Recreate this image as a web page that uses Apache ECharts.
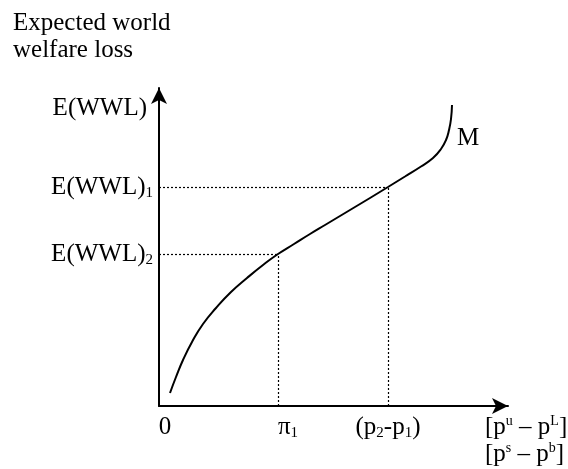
<!DOCTYPE html>
<html><head><meta charset="utf-8">
<script src="https://cdn.jsdelivr.net/npm/echarts@6/dist/echarts.min.js"></script>
<style>html,body{margin:0;padding:0;background:#fff}#c{width:568px;height:469px}</style>
</head><body><div id="c"></div>
<script>
// Curve M (abstract units)
const curveX = [11,17,24,33,44,57,72,88,104,119,135,151,166,181,196,211,229,246,262,274,282,287,290,292,293];
const curveY = [13,29,46,64,82,98,114,128,141,152,162,172,181,190,199,208,219,229.5,239.5,248,257,266,276,287,301];
// Projection points on M
const projX = [119, 229];
const projY = [152, 219];
// Tick labels
const xTickValues = [0, 119, 229];
const xTickLabels = ['{g12|}{m|0}', '{g20|}{m|π}{s|1}', '{m|(p}{s|2}{m|-p}{s|1}{m|)}'];
const yTickValues = [152, 219, 298];
const yTickLabels = ['{m|E(WWL)}{s|2}', '{m|E(WWL)}{s|1}', '{m|E(WWL)}{g6|}'];
const xAxisName = '{m|[p}{u|u}{m| – p}{u|L}{m|]}\n{m|[p}{u|s}{m| – p}{u|b}{m|]}';
const titleText = 'Expected world\nwelfare loss';
const curveName = 'M';

const FONT = 'Liberation Serif';
const FS = 25;
const rich = {
  m: {fontFamily: FONT, fontSize: FS, color: '#000', lineHeight: 27},
  s: {fontFamily: FONT, fontSize: 15, color: '#000', lineHeight: 15, verticalAlign: 'bottom'},
  u: {fontFamily: FONT, fontSize: 14, color: '#000', lineHeight: 14, verticalAlign: 'top'},
  g6: {width: 6},
  g12: {width: 12},
  g20: {width: 20}
};

const markData = [];
for (let i = 0; i < projX.length; i++) {
  markData.push([{coord: [0, projY[i]]}, {coord: [projX[i], projY[i]]}]);
  markData.push([{coord: [projX[i], 0]}, {coord: [projX[i], projY[i]]}]);
}

const chart = echarts.init(document.getElementById('c'));
chart.setOption({
  animation: false,
  backgroundColor: '#fff',
  title: {
    text: titleText, left: 13, top: 10, padding: 0,
    textStyle: {fontFamily: FONT, fontSize: FS, fontWeight: 'normal', color: '#000', lineHeight: 27}
  },
  grid: {left: 159, top: 88, width: 349, height: 318, containLabel: false, outerBoundsMode: 'none'},
  xAxis: {
    type: 'value', min: 0, max: 349,
    splitLine: {show: false},
    axisLine: {lineStyle: {color: '#000', width: 2}, symbol: ['none', 'arrow'], symbolSize: [12, 16]},
    axisTick: {show: false},
    axisLabel: {
      customValues: xTickValues, margin: 8,
      formatter: v => xTickLabels[xTickValues.indexOf(v)] || '',
      rich: rich
    },
    name: xAxisName, nameLocation: 'end', nameGap: -23,
    nameTextStyle: {align: 'left', verticalAlign: 'top', padding: [8, 0, 0, 0], rich: rich}
  },
  yAxis: {
    type: 'value', min: 0, max: 318,
    splitLine: {show: false},
    axisLine: {lineStyle: {color: '#000', width: 2}, symbol: ['none', 'arrow'], symbolSize: [12, 16]},
    axisTick: {show: false},
    axisLabel: {
      customValues: yTickValues, margin: 6,
      formatter: v => yTickLabels[yTickValues.indexOf(v)] || '',
      rich: rich
    }
  },
  series: [{
    type: 'line', name: curveName,
    data: curveX.map((x, i) => [x, curveY[i]]),
    smooth: 0.5, showSymbol: false,
    lineStyle: {color: '#000', width: 2},
    endLabel: {show: true, formatter: '{a}', fontFamily: FONT, fontSize: FS, color: '#000', offset: [-3, 33]},
    markLine: {
      silent: true, symbol: 'none', label: {show: false},
      lineStyle: {color: '#000', type: [2, 2], width: 1.2},
      data: markData
    }
  }]
});
</script></body></html>
